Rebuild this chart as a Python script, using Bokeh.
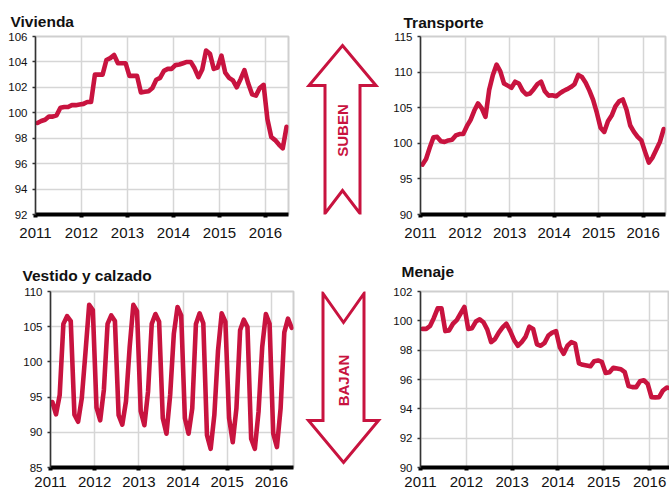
import math
from bokeh.plotting import figure
from bokeh.layouts import column, row
from bokeh.models import Range1d, FixedTicker
from bokeh.embed import file_html
from bokeh.resources import INLINE
from bokeh.core.properties import value

RED = "#C8133F"
FONT = "Liberation Sans"

years = [2011, 2012, 2013, 2014, 2015, 2016]
year_labels = ["2011", "2012", "2013", "2014", "2015", "2016"]

# Monthly index values, Jan 2011 - Jun 2016
vivienda = [99.2, 99.35, 99.45, 99.7, 99.7, 99.8, 100.4, 100.45, 100.45, 100.6, 100.6, 100.65,
            100.7, 100.85, 100.85, 103.0, 103.0, 103.0, 104.15, 104.3, 104.55, 103.9, 103.9, 103.9,
            102.9, 102.9, 102.9, 101.6, 101.65, 101.7, 101.95, 102.6, 102.75, 103.3, 103.45, 103.45,
            103.75, 103.8, 103.9, 104.0, 104.0, 103.5, 102.8, 103.4, 104.9, 104.65, 103.45, 103.55,
            104.5, 103.15, 102.75, 102.55, 102.0, 102.65, 103.35, 102.3, 101.45, 101.35, 101.95, 102.2,
            99.5, 98.1, 97.85, 97.5, 97.2, 98.9]
transporte = [97.0, 97.8, 99.4, 100.85, 100.9, 100.3, 100.2, 100.4, 100.5, 101.1, 101.3, 101.3,
              102.4, 103.3, 104.6, 105.6, 104.9, 103.7, 107.5, 109.6, 111.05, 110.1, 108.4, 108.1,
              107.8, 108.65, 108.4, 107.4, 106.85, 107.0, 107.6, 108.3, 108.65, 107.3, 106.7, 106.75,
              106.6, 107.0, 107.35, 107.6, 107.9, 108.3, 109.6, 109.3, 108.5, 107.4, 106.1, 104.3,
              102.2, 101.6, 103.1, 103.9, 105.2, 105.9, 106.15, 104.7, 102.5, 101.6, 100.9, 100.4,
              98.8, 97.3, 98.0, 99.1, 100.2, 102.0]
vestido = [94.3, 92.55, 95.3, 105.4, 106.5, 105.8, 92.5, 91.5, 94.85, 101.35, 108.1, 107.35,
           93.5, 91.7, 96.05, 105.4, 106.6, 105.8, 92.45, 91.1, 94.4, 102.1, 108.1, 107.2,
           93.0, 91.0, 95.8, 105.4, 106.8, 105.7, 92.0, 89.8, 95.3, 104.0, 107.8, 106.6,
           92.0, 89.8, 93.4, 105.4, 106.9, 105.5, 89.6, 87.65, 92.45, 101.6, 106.9, 105.7,
           92.0, 88.6, 93.4, 104.5, 106.0, 104.95, 89.1, 87.65, 92.9, 102.1, 106.8, 105.4,
           89.8, 87.9, 93.4, 104.2, 106.15, 104.85]
menaje = [99.45, 99.45, 99.65, 100.2, 100.85, 100.85, 99.3, 99.35, 99.8, 100.05, 100.5, 100.95,
          99.45, 99.5, 99.95, 100.1, 99.9, 99.4, 98.55, 98.75, 99.2, 99.55, 99.8, 99.3,
          98.7, 98.3, 98.55, 98.9, 99.6, 99.45, 98.4, 98.3, 98.5, 99.0, 99.2, 99.3,
          98.2, 97.75, 98.3, 98.55, 98.45, 97.1, 97.0, 96.95, 96.9, 97.25, 97.3, 97.2,
          96.45, 96.5, 96.8, 96.75, 96.7, 96.5, 95.55, 95.48, 95.48, 95.88, 95.95, 95.7,
          94.8, 94.78, 94.8, 95.25, 95.45, 95.4]

viv_ticks = [92, 94, 96, 98, 100, 102, 104, 106]
tra_ticks = [90, 95, 100, 105, 110, 115]
ves_ticks = [85, 90, 95, 100, 105, 110]
men_ticks = [90, 92, 94, 96, 98, 100, 102]

titles = ["Vivienda", "Transporte", "Vestido y calzado", "Menaje"]
arrow_labels = ["SUBEN", "BAJAN"]


def month_positions(n):
    return [2011 + (i + 0.5) / 12 for i in range(n)]


def chart(title, vals, ticks, width, height, x_end, bl, br, bt, bb, t_off, t_stand, x_stand):
    p = figure(width=width, height=height, output_backend="svg", toolbar_location=None,
               x_range=Range1d(2011, x_end), y_range=Range1d(ticks[0], ticks[-1]),
               min_border_left=bl, min_border_right=br, min_border_top=bt, min_border_bottom=bb,
               title=title)
    p.title.text_font = FONT
    p.title.text_font_size = "15.5px"
    p.title.text_font_style = "bold"
    p.title.text_color = "#111111"
    p.title.align = "left"
    p.title.offset = t_off
    p.title.standoff = t_stand
    p.background_fill_color = None
    p.border_fill_color = None
    p.outline_line_color = "#CFCFCF"
    p.outline_line_width = 2

    p.xaxis.ticker = FixedTicker(ticks=years)
    p.xaxis.major_label_overrides = {y: l for y, l in zip(years, year_labels)}
    p.xaxis.axis_line_color = "black"
    p.xaxis.axis_line_width = 4
    p.xaxis.major_tick_line_color = "black"
    p.xaxis.major_tick_line_width = 4
    p.xaxis.major_tick_out = 3
    p.xaxis.major_tick_in = 0
    p.xaxis.minor_tick_line_color = None
    p.xaxis.major_label_text_font = FONT
    p.xaxis.major_label_text_font_size = "15px"
    p.xaxis.major_label_text_color = "#111111"
    p.xaxis.major_label_standoff = x_stand

    p.yaxis.ticker = FixedTicker(ticks=ticks)
    p.yaxis.axis_line_color = "#333333"
    p.yaxis.axis_line_width = 1.5
    p.yaxis.major_tick_line_color = "#333333"
    p.yaxis.major_tick_line_width = 1.5
    p.yaxis.major_tick_out = 3
    p.yaxis.major_tick_in = 0
    p.yaxis.minor_tick_line_color = None
    p.yaxis.major_label_text_font = FONT
    p.yaxis.major_label_text_font_size = "11.5px"
    p.yaxis.major_label_text_color = "#111111"
    p.yaxis.major_label_standoff = 5

    p.xgrid.ticker = FixedTicker(ticks=years)
    p.ygrid.ticker = FixedTicker(ticks=ticks)
    p.xgrid.grid_line_color = "#D6D6D6"
    p.ygrid.grid_line_color = "#D6D6D6"
    p.xgrid.grid_line_width = 1.5
    p.ygrid.grid_line_width = 1.5

    p.line(month_positions(len(vals)), vals, line_color=RED, line_width=4.6,
           line_join="round", line_cap="round")
    return p


def arrow_fig(width, height, bt, bb, label, cx, tip, base, tail, notch, hs, hh, ty):
    # y measured upward from the bottom of the row; frame is aligned with the row's charts
    p = figure(width=width, height=height, output_backend="svg", toolbar_location=None,
               x_range=Range1d(0, width), y_range=Range1d(bb, height - bt),
               x_axis_type=None, y_axis_type=None,
               min_border_left=0, min_border_right=0, min_border_top=bt, min_border_bottom=bb)
    p.outline_line_color = None
    p.grid.visible = False
    p.background_fill_color = None
    p.border_fill_color = None
    xs = [cx, cx + hh, cx + hs, cx + hs, cx, cx - hs, cx - hs, cx - hh]
    ys = [tip, base, base, tail, notch, tail, base, base]
    p.patch(xs, ys, fill_color="white", line_color=RED, line_width=3, line_join="miter")
    p.text(x=[cx], y=[ty], text=[label], angle=math.pi / 2, text_align="center",
           text_baseline="middle", text_font=value(FONT), text_font_style="bold",
           text_font_size="15px", text_color=RED)
    return p


p_viv = chart(titles[0], vivienda, viv_ticks, 300, 245, 2016.5, 35, 12, 36, 31, -25, 13, 10)
p_up = arrow_fig(90, 245, 36, 31, arrow_labels[0], 42, 200, 160, 32, 55, 17.5, 33.5, 115)
p_tra = chart(titles[1], transporte, tra_ticks, 279, 245, 2016.5, 30, 4, 36, 31, -17, 11, 10)

p_ves = chart(titles[2], vestido, ves_ticks, 300, 248, 2016.5, 50, 7, 46, 26, -28, 15, 6)
p_down = arrow_fig(90, 248, 46, 26, arrow_labels[1], 43, 31, 73, 200, 171, 20.5, 35, 113)
p_men = chart(titles[3], menaje, men_ticks, 279, 248, 2016.435, 29, 0, 46, 26, -19, 24, 6)

layout = column(row(p_viv, p_up, p_tra, spacing=0), row(p_ves, p_down, p_men, spacing=0), spacing=0)

open("out.html", "w").write(file_html(layout, INLINE))
